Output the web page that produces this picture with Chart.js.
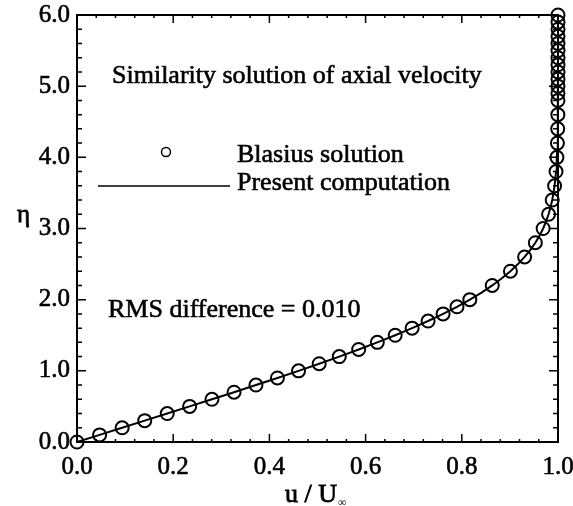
<!DOCTYPE html>
<html>
<head>
<meta charset="utf-8">
<script src="https://cdn.jsdelivr.net/npm/chart.js@4.4.1/dist/chart.umd.min.js"></script>
<style>
  html, body { margin: 0; padding: 0; background: #fff; }
  #wrap { width: 573px; height: 506px; }
</style>
</head>
<body>
<div id="wrap"><canvas id="profileChart" width="573" height="506"></canvas></div>
<script>
// Blasius similarity profile, eta vs u/U
const blasiusEta = [0.0, 0.1, 0.2, 0.3, 0.4, 0.5, 0.6, 0.7, 0.8, 0.9, 1.0,
    1.1, 1.2, 1.3, 1.4, 1.5, 1.6, 1.7, 1.8, 1.9, 2.0,
    2.2, 2.4, 2.6, 2.8, 3.0, 3.2, 3.4, 3.6, 3.8, 4.0,
    4.2, 4.4, 4.6, 4.8, 4.9, 5.0, 5.1, 5.2, 5.3, 5.4,
    5.5, 5.6, 5.7, 5.8, 5.9, 6.0];
const blasiusU = [0.0, 0.0470, 0.0939, 0.1408, 0.1876, 0.2342, 0.2806, 0.3265, 0.3720, 0.4167, 0.4606,
    0.5035, 0.5453, 0.5856, 0.6244, 0.6615, 0.6967, 0.7299, 0.7611, 0.7900, 0.8167,
    0.8633, 0.9011, 0.9306, 0.9529, 0.9691, 0.9804, 0.9880, 0.9929, 0.9959, 0.9978,
    0.9988, 0.9994, 0.9997, 0.9999, 0.9999, 0.9999, 1.0, 1.0, 1.0, 1.0,
    1.0, 1.0, 1.0, 1.0, 1.0, 1.0];

// present computation (solid line)
const computedEta = [0.0, 0.1, 0.2, 0.3, 0.4, 0.5, 0.6, 0.7, 0.8, 0.9, 1.0,
    1.1, 1.2, 1.3, 1.4, 1.5, 1.6, 1.7, 1.8, 1.9, 2.0,
    2.1, 2.2, 2.3, 2.4, 2.5, 2.6, 2.7, 2.8, 2.9, 3.0,
    3.1, 3.2, 3.3, 3.4, 3.5, 3.6, 3.7, 3.8, 3.9, 4.0,
    4.1, 4.2, 4.3, 4.4, 4.5, 4.6, 4.7, 4.8, 4.9, 5.0,
    5.1, 5.2, 5.3, 5.4, 5.5, 5.6, 5.7, 5.8, 5.9, 6.0];
const computedU = [0.0, 0.0470, 0.0939, 0.1408, 0.1876, 0.2342, 0.2806, 0.3265, 0.3720, 0.4167, 0.4606,
    0.5035, 0.5453, 0.5856, 0.6244, 0.6615, 0.6967, 0.7299, 0.7611, 0.7900, 0.8167,
    0.8411, 0.8633, 0.8832, 0.9011, 0.9168, 0.9306, 0.9425, 0.9529, 0.9617, 0.9691,
    0.9752, 0.9804, 0.9845, 0.9880, 0.9904, 0.9929, 0.9946, 0.9959, 0.9970, 0.9978,
    0.9984, 0.9988, 0.9992, 0.9994, 0.9996, 0.9997, 0.9998, 0.9999, 0.9999, 0.9999,
    1.0, 1.0, 1.0, 1.0, 1.0, 1.0, 1.0, 1.0, 1.0, 1.0];

// axis ticks
const xMajorTicks = [0.0, 0.2, 0.4, 0.6, 0.8, 1.0];
const yMajorTicks = [0.0, 1.0, 2.0, 3.0, 4.0, 5.0, 6.0];
const xMinorStep = 0.04;
const yMinorStep = 0.2;

const SERIF = "'Liberation Serif', 'Times New Roman', serif";

function toPoints(xs, ys) {
    return xs.map((x, i) => ({ x: x, y: ys[i] }));
}

// text drawn a little heavier, like the scanned original
function heavyText(ctx, str, x, y) {
    ctx.strokeText(str, x, y);
    ctx.fillText(str, x, y);
}

// frame, inward ticks, annotations and axis titles
const decorPlugin = {
    id: 'decor',
    afterDatasetsDraw(chart) {
        const ctx = chart.ctx;
        const area = chart.chartArea;
        const xs = chart.scales.x;
        const ys = chart.scales.y;
        ctx.save();
        ctx.strokeStyle = '#000';
        ctx.lineWidth = 2;
        ctx.strokeRect(area.left, area.top, area.right - area.left, area.bottom - area.top);

        ctx.lineWidth = 1.5;
        ctx.beginPath();
        // x ticks (bottom and top)
        for (let i = 0; i <= 25; i++) {
            const v = i * xMinorStep;
            const px = xs.getPixelForValue(v);
            const major = xMajorTicks.some(t => Math.abs(t - v) < 1e-6);
            const len = major ? 8 : 3;
            ctx.moveTo(px, area.bottom); ctx.lineTo(px, area.bottom - len);
            ctx.moveTo(px, area.top); ctx.lineTo(px, area.top + len);
        }
        // y ticks (left and right)
        for (let i = 0; i <= 30; i++) {
            const v = i * yMinorStep;
            const py = ys.getPixelForValue(v);
            const major = yMajorTicks.some(t => Math.abs(t - v) < 1e-6);
            const len = major ? 9 : 5;
            ctx.moveTo(area.left, py); ctx.lineTo(area.left + len, py);
            ctx.moveTo(area.right, py); ctx.lineTo(area.right - len, py);
        }
        ctx.stroke();

        ctx.fillStyle = '#000';
        ctx.lineWidth = 0.6;
        ctx.textAlign = 'left';
        ctx.textBaseline = 'alphabetic';
        ctx.font = '26px ' + SERIF;
        heavyText(ctx, 'Similarity solution of axial velocity', 112, 83);
        heavyText(ctx, 'Blasius solution', 237, 162);
        heavyText(ctx, 'Present computation', 237, 190);
        heavyText(ctx, 'RMS difference = 0.010', 108, 317);

        // legend symbols
        ctx.lineWidth = 1.5;
        ctx.beginPath();
        ctx.arc(166, 152, 4.5, 0, Math.PI * 2);
        ctx.stroke();
        ctx.beginPath();
        ctx.moveTo(98, 186);
        ctx.lineTo(230, 186);
        ctx.stroke();

        // axis titles
        ctx.lineWidth = 0.8;
        ctx.font = '25px ' + SERIF;
        heavyText(ctx, '\u03b7', 17, 222);
        ctx.font = '26px ' + SERIF;
        heavyText(ctx, 'u / U', 285, 502);
        const w = ctx.measureText('u / U').width;
        ctx.font = '12px ' + SERIF;
        ctx.fillText('\u221e', 285 + w + 1, 506);
        ctx.restore();
    }
};

const tickFont = { family: SERIF, size: 25 };

new Chart(document.getElementById('profileChart'), {
    type: 'scatter',
    data: {
        datasets: [{
            label: 'Present computation',
            data: toPoints(computedU, computedEta),
            showLine: true,
            borderColor: '#000',
            borderWidth: 2,
            pointRadius: 0,
            tension: 0,
            clip: false
        }, {
            label: 'Blasius solution',
            data: toPoints(blasiusU, blasiusEta),
            showLine: false,
            pointStyle: 'circle',
            pointRadius: 6.5,
            pointBorderWidth: 2,
            pointBorderColor: '#000',
            pointBackgroundColor: 'rgba(0,0,0,0)',
            clip: false
        }]
    },
    options: {
        responsive: false,
        animation: false,
        devicePixelRatio: 1,
        layout: { padding: { left: 0, top: 15, right: 15, bottom: 0 } },
        plugins: {
            legend: { display: false },
            tooltip: { enabled: false }
        },
        scales: {
            x: {
                type: 'linear',
                min: 0,
                max: 1,
                grid: { display: false, drawTicks: false },
                border: { display: false },
                ticks: {
                    stepSize: 0.2,
                    padding: 10,
                    color: '#000',
                    textStrokeColor: '#000',
                    textStrokeWidth: 0.6,
                    font: tickFont,
                    callback: function(value) { return value.toFixed(1); }
                },
                afterFit: function(scale) {
                    scale.height = 64;
                    scale.paddingLeft = 0;
                    scale.paddingRight = 0;
                }
            },
            y: {
                type: 'linear',
                min: 0,
                max: 6,
                grid: { display: false, drawTicks: false },
                border: { display: false },
                ticks: {
                    stepSize: 1,
                    padding: 7,
                    color: '#000',
                    textStrokeColor: '#000',
                    textStrokeWidth: 0.6,
                    font: tickFont,
                    callback: function(value) { return value.toFixed(1); }
                },
                afterFit: function(scale) {
                    scale.width = 77;
                    scale.paddingTop = 0;
                    scale.paddingBottom = 0;
                }
            }
        }
    },
    plugins: [decorPlugin]
});
</script>
</body>
</html>
